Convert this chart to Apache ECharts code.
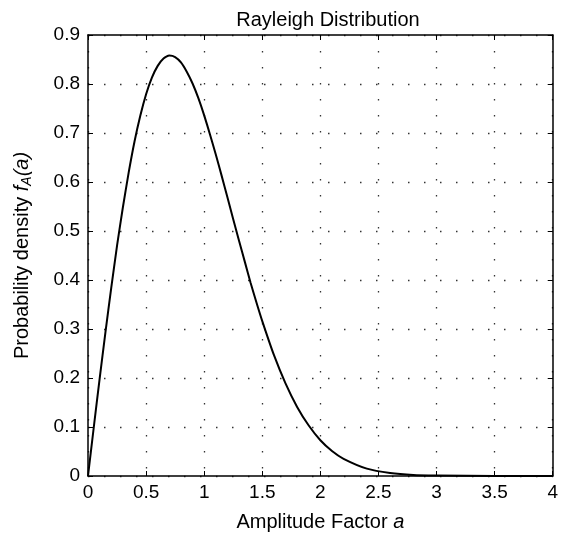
<!DOCTYPE html>
<html>
<head>
<meta charset="utf-8">
<script src="https://cdn.jsdelivr.net/npm/echarts@6/dist/echarts.min.js"></script>
<style>
  html, body { margin: 0; padding: 0; background: #fff; }
  #chart { width: 561px; height: 537px; }
</style>
</head>
<body>
<div id="chart"></div>
<script>
// values
var amplitude = [0, 0.05, 0.1, 0.15, 0.2, 0.25, 0.3, 0.35, 0.4, 0.45, 0.5, 0.55, 0.6, 0.65, 0.7, 0.75, 0.8, 0.85, 0.9, 0.95,
    1.0, 1.05, 1.1, 1.15, 1.2, 1.25, 1.3, 1.35, 1.4, 1.45, 1.5, 1.6, 1.7, 1.8, 1.9, 2.0, 2.1, 2.2, 2.4, 2.6, 2.8, 3.0, 3.5, 4.0];
var density = [0, 0.100, 0.198, 0.293, 0.384, 0.470, 0.548, 0.619, 0.682, 0.735, 0.779, 0.813, 0.837, 0.852, 0.858, 0.855, 0.844, 0.825, 0.801, 0.771,
    0.736, 0.697, 0.656, 0.613, 0.569, 0.524, 0.480, 0.437, 0.394, 0.354, 0.316, 0.247, 0.189, 0.141, 0.103, 0.073, 0.051, 0.035, 0.015, 0.006, 0.002, 0.001, 0, 0];
var xTicks = { min: 0, max: 4, step: 0.5 };
var yTicks = { min: 0, max: 0.9, step: 0.1 };

var points = [];
amplitude.forEach(function (a, i) {
    points.push([a, density[i]]);
});

var font = 'Liberation Sans, Arial, sans-serif';
var gridDots = { show: true, lineStyle: { color: '#333', width: 1.3, type: [1.5, 14.5] } };

var chart = echarts.init(document.getElementById('chart'));
var option = {
    animation: false,
    title: {
        text: 'Rayleigh Distribution',
        left: 323, top: 5, textAlign: 'center',
        textStyle: { fontFamily: font, fontSize: 20, fontWeight: 'normal', color: '#000' }
    },
    grid: { left: 88, right: 4, top: 35, bottom: 60 },
    xAxis: [{
        type: 'value', min: xTicks.min, max: xTicks.max, interval: xTicks.step,
        name: '{n|Amplitude Factor }{i|a}',
        nameLocation: 'middle', nameGap: 36,
        nameTextStyle: { rich: {
            n: { fontFamily: font, fontSize: 20, color: '#000' },
            i: { fontFamily: font, fontSize: 20, fontStyle: 'italic', color: '#000' }
        } },
        axisLine: { show: true, onZero: false, lineStyle: { color: '#000', width: 1.5 } },
        axisTick: { show: true, inside: true, length: 5, lineStyle: { color: '#000' } },
        axisLabel: { fontFamily: font, fontSize: 19, color: '#000', margin: 7 },
        splitLine: gridDots
    }, {
        type: 'value', position: 'top', min: xTicks.min, max: xTicks.max, interval: xTicks.step,
        axisLine: { show: true, onZero: false, lineStyle: { color: '#000', width: 1.5 } },
        axisTick: { show: true, inside: true, length: 5, lineStyle: { color: '#000' } },
        axisLabel: { show: false },
        splitLine: { show: false }
    }],
    yAxis: [{
        type: 'value', min: yTicks.min, max: yTicks.max, interval: yTicks.step,
        name: '{n|Probability density }{i|f}{s|A}{i|(a)}',
        nameLocation: 'middle', nameGap: 54, nameRotate: 90,
        nameTextStyle: { rich: {
            n: { fontFamily: font, fontSize: 20, color: '#000' },
            i: { fontFamily: font, fontSize: 20, fontStyle: 'italic', color: '#000' },
            s: { fontFamily: font, fontSize: 14, fontStyle: 'italic', color: '#000', padding: [9, 0, 0, 0] }
        } },
        axisLine: { show: true, onZero: false, lineStyle: { color: '#000', width: 1.5 } },
        axisTick: { show: true, inside: true, length: 5, lineStyle: { color: '#000' } },
        axisLabel: { fontFamily: font, fontSize: 19, color: '#000', margin: 8 },
        splitLine: gridDots
    }, {
        type: 'value', position: 'right', min: yTicks.min, max: yTicks.max, interval: yTicks.step,
        axisLine: { show: true, onZero: false, lineStyle: { color: '#000', width: 1.5 } },
        axisTick: { show: true, inside: true, length: 5, lineStyle: { color: '#000' } },
        axisLabel: { show: false },
        splitLine: { show: false }
    }],
    series: [{
        type: 'line',
        data: points,
        smooth: 0.2,
        showSymbol: false,
        lineStyle: { color: '#000', width: 2 }
    }]
};
chart.setOption(option);
</script>
</body>
</html>
